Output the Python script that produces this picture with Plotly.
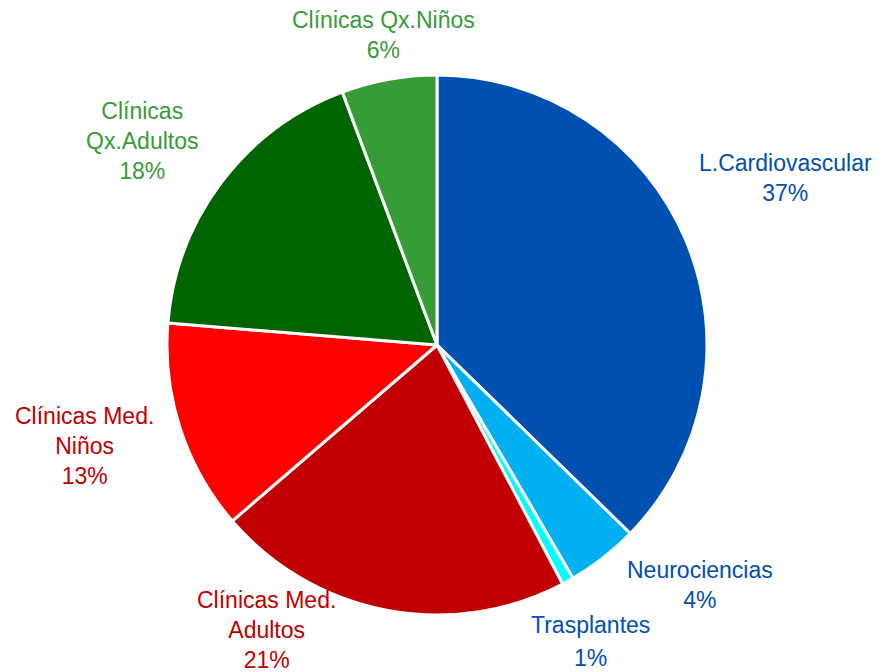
import plotly.graph_objects as go

labels = ["L.Cardiovascular", "Neurociencias", "Trasplantes", "Clínicas Med.<br>Adultos",
          "Clínicas Med.<br>Niños", "Clínicas<br>Qx.Adultos", "Clínicas Qx.Niños"]
values = [37.3, 4.3, 0.7, 21.4, 12.6, 18.0, 5.7]
pct_labels = ["37%", "4%", "1%", "21%", "13%", "18%", "6%"]
slice_colors = ["#0050B0", "#00B0F0", "#00FFFF", "#C00000", "#FF0000", "#006400", "#379B37"]
text_colors = ["#0050B0", "#0050B0", "#0050B0", "#C00000", "#C00000", "#379B37", "#379B37"]

W, H = 884, 672
OFF = 8  # page body margin offset
# label anchor positions in pixels (layout, not data); Trasplantes % drawn separately
label_pos = [(785, 178), (700, 585), (590, 625), (266, 630), (84, 446), (142, 141), (383, 35)]
trasplantes_pct_pos = (590, 658)


def px(x, y):
    return (x - OFF) / W, 1 - (y - OFF) / H


fig = go.Figure(go.Pie(
    labels=labels, values=values, sort=False, direction="clockwise", rotation=0,
    marker=dict(colors=slice_colors, line=dict(color="white", width=3)),
    textinfo="none", hoverinfo="label+percent", showlegend=False,
    domain=dict(x=[(167 - OFF) / W, (707 - OFF) / W],
                y=[(H - 615 + OFF) / H, (H - 75 + OFF) / H]),
))

font_family = "Liberation Sans, Arial, sans-serif"
annotations = []
for i, (lab, pct) in enumerate(zip(labels, pct_labels)):
    x, y = px(*label_pos[i])
    text = lab if lab == "Trasplantes" else lab + "<br>" + pct
    annotations.append(dict(
        x=x, y=y, xref="paper", yref="paper", text=text, showarrow=False,
        xanchor="center", yanchor="middle", align="center",
        font=dict(family=font_family, size=23, color=text_colors[i]),
    ))
tx, ty = px(*trasplantes_pct_pos)
annotations.append(dict(
    x=tx, y=ty, xref="paper", yref="paper", text=pct_labels[2], showarrow=False,
    xanchor="center", yanchor="middle", align="center",
    font=dict(family=font_family, size=23, color=text_colors[2]),
))

fig.update_layout(
    width=W, height=H, margin=dict(l=0, r=0, t=0, b=0),
    paper_bgcolor="white", plot_bgcolor="white", annotations=annotations,
)

fig.write_html("out.html")
